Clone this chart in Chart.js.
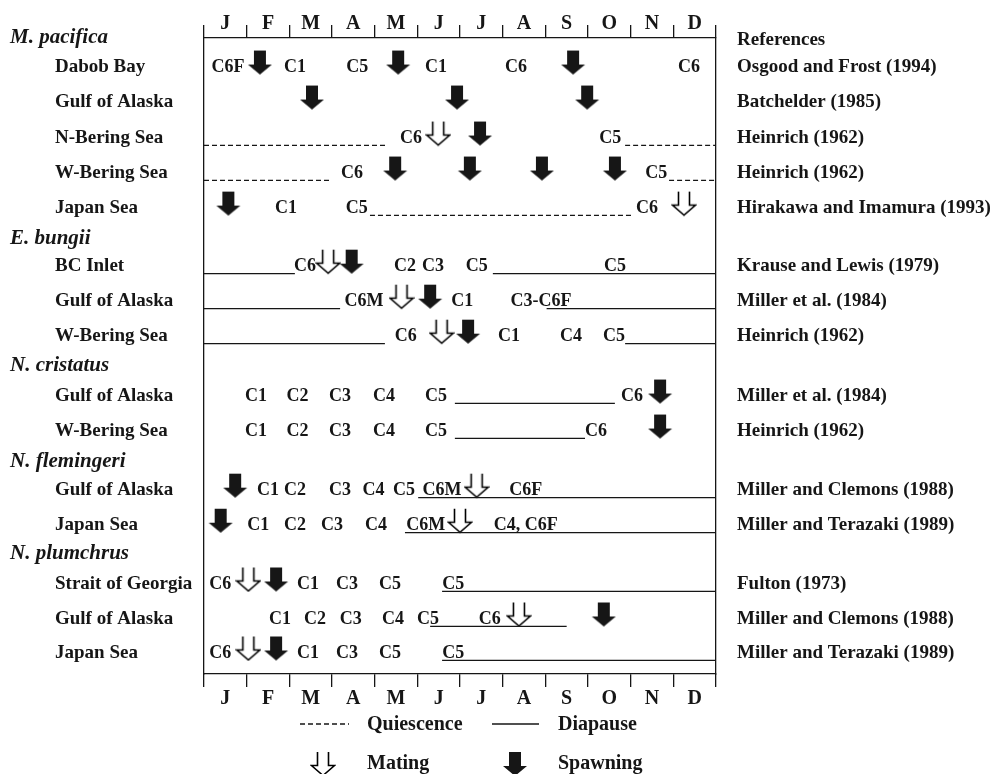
<!DOCTYPE html>
<html>
<head>
<meta charset="utf-8">
<script src="https://cdn.jsdelivr.net/npm/chart.js@4.4.1/dist/chart.umd.min.js"></script>
<style>
  html, body { margin: 0; padding: 0; background: #fff; }
  canvas { display: block; }
</style>
</head>
<body>
<canvas id="phenology" width="993" height="774"></canvas>
<script>
const months = ['J', 'F', 'M', 'A', 'M', 'J', 'J', 'A', 'S', 'O', 'N', 'D']

const speciesNames = ['M. pacifica', 'E. bungii', 'N. cristatus', 'N. flemingeri', 'N. plumchrus']
const speciesRows = [-0.03, 5.69, 9.34, 12.06, 14.71]

const siteNames = [
  'Dabob Bay', 'Gulf of Alaska', 'N-Bering Sea', 'W-Bering Sea', 'Japan Sea',
  'BC Inlet', 'Gulf of Alaska', 'W-Bering Sea',
  'Gulf of Alaska', 'W-Bering Sea',
  'Gulf of Alaska', 'Japan Sea',
  'Strait of Georgia', 'Gulf of Alaska', 'Japan Sea'
]
const siteRows = [0.77, 1.77, 2.8, 3.8, 4.8, 6.46, 7.46, 8.46, 10.17, 11.17, 12.86, 13.86, 15.54, 16.54, 17.51]
const siteRefs = [
  'Osgood and Frost (1994)', 'Batchelder (1985)', 'Heinrich (1962)', 'Heinrich (1962)', 'Hirakawa and Imamura (1993)',
  'Krause and Lewis (1979)', 'Miller et al. (1984)', 'Heinrich (1962)',
  'Miller et al. (1984)', 'Heinrich (1962)',
  'Miller and Clemons (1988)', 'Miller and Terazaki (1989)',
  'Fulton (1973)', 'Miller and Clemons (1988)', 'Miller and Terazaki (1989)'
]

// [site index, month position, stage text]
const stageLabels = [
  [0, 0.56, 'C6F'], [0, 2.13, 'C1'], [0, 3.59, 'C5'], [0, 5.44, 'C1'], [0, 7.31, 'C6'], [0, 11.37, 'C6'],
  [2, 4.85, 'C6'], [2, 9.52, 'C5'],
  [3, 3.47, 'C6'], [3, 10.6, 'C5'],
  [4, 1.92, 'C1'], [4, 3.58, 'C5'], [4, 10.38, 'C6'],
  [5, 2.37, 'C6'], [5, 4.71, 'C2'], [5, 5.37, 'C3'], [5, 6.39, 'C5'], [5, 9.63, 'C5'],
  [6, 3.75, 'C6M'], [6, 6.05, 'C1'], [6, 7.9, 'C3-C6F'],
  [7, 4.73, 'C6'], [7, 7.15, 'C1'], [7, 8.6, 'C4'], [7, 9.61, 'C5'],
  [8, 1.22, 'C1'], [8, 2.19, 'C2'], [8, 3.19, 'C3'], [8, 4.22, 'C4'], [8, 5.44, 'C5'], [8, 10.03, 'C6'],
  [9, 1.22, 'C1'], [9, 2.19, 'C2'], [9, 3.19, 'C3'], [9, 4.22, 'C4'], [9, 5.44, 'C5'], [9, 9.19, 'C6'],
  [10, 1.5, 'C1'], [10, 2.13, 'C2'], [10, 3.19, 'C3'], [10, 3.97, 'C4'], [10, 4.69, 'C5'], [10, 5.58, 'C6M'], [10, 7.54, 'C6F'],
  [11, 1.27, 'C1'], [11, 2.13, 'C2'], [11, 3.0, 'C3'], [11, 4.03, 'C4'], [11, 5.2, 'C6M'], [11, 7.54, 'C4, C6F'],
  [12, 0.38, 'C6'], [12, 2.44, 'C1'], [12, 3.35, 'C3'], [12, 4.36, 'C5'], [12, 5.84, 'C5'],
  [13, 1.78, 'C1'], [13, 2.6, 'C2'], [13, 3.44, 'C3'], [13, 4.43, 'C4'], [13, 5.25, 'C5'], [13, 6.7, 'C6'],
  [14, 0.38, 'C6'], [14, 2.44, 'C1'], [14, 3.35, 'C3'], [14, 4.36, 'C5'], [14, 5.84, 'C5']
]

// [site index, month position]
const spawning = [
  [0, 1.31], [0, 4.55], [0, 8.65],
  [1, 2.53], [1, 5.93], [1, 8.98],
  [2, 6.47],
  [3, 4.48], [3, 6.23], [3, 7.92], [3, 9.63],
  [4, 0.57],
  [5, 3.46], [6, 5.3], [7, 6.19],
  [8, 10.69], [9, 10.69],
  [10, 0.73], [11, 0.39],
  [12, 1.69], [13, 9.37], [14, 1.69]
]
const mating = [
  [2, 5.49], [4, 11.25], [5, 2.91], [6, 4.63], [7, 5.57],
  [10, 6.39], [11, 6.0], [12, 1.04], [13, 7.38], [14, 1.04]
]

// [site index, start month, end month]
const quiescence = [
  [2, 0, 4.28], [2, 9.87, 12], [3, 0, 3.0], [3, 10.9, 12], [4, 3.89, 10.03]
]
const diapause = [
  [5, 0, 2.13], [5, 6.77, 12], [6, 0, 3.19], [6, 8.03, 12], [7, 0, 4.24], [7, 9.87, 12],
  [8, 5.88, 9.63], [9, 5.88, 8.93], [10, 5.02, 12], [11, 4.71, 12],
  [12, 5.58, 12], [13, 5.3, 8.5], [14, 5.58, 12]
]

const ink = '#161616'
const serif = '"Liberation Serif", "Times New Roman", serif'
const lineDrop = 0.27   // segments sit under the text baseline
const arrowLift = -0.07
const textNudge = 2     // px, canvas 'middle' sits a little high for this face

function makeArrow(filled) {
  const c = document.createElement('canvas')
  c.width = 26
  c.height = 26
  const g = c.getContext('2d')
  g.beginPath()
  if (filled) {
    g.moveTo(7, 1); g.lineTo(19, 1); g.lineTo(19, 15); g.lineTo(25, 15)
    g.lineTo(13, 25); g.lineTo(1, 15); g.lineTo(7, 15); g.closePath()
    g.fillStyle = ink
    g.fill()
  } else {
    // open-topped outline arrow
    g.moveTo(7.5, 1); g.lineTo(7.5, 14.5); g.lineTo(1.5, 14.5); g.lineTo(13, 24.5)
    g.lineTo(24.5, 14.5); g.lineTo(18.5, 14.5); g.lineTo(18.5, 1)
    g.fillStyle = '#fff'
    g.fill()
    g.strokeStyle = '#000'
    g.lineWidth = 1.6
    g.lineJoin = 'miter'
    g.stroke()
  }
  return c
}
const spawnArrow = makeArrow(true)
const mateArrow = makeArrow(false)

function segmentDatasets(segments, dash) {
  return segments.map(([site, from, to]) => ({
    type: 'scatter',
    showLine: true,
    data: [{ x: from, y: siteRows[site] + lineDrop }, { x: to, y: siteRows[site] + lineDrop }],
    borderColor: ink,
    borderWidth: 1.3,
    borderDash: dash,
    pointRadius: 0
  }))
}

function arrowDataset(points, image) {
  return {
    type: 'scatter',
    data: points.map(([site, month]) => ({ x: month, y: siteRows[site] + arrowLift })),
    pointStyle: image,
    pointRadius: 12
  }
}

const datasets = [
  ...segmentDatasets(quiescence, [5, 3]),
  ...segmentDatasets(diapause, []),
  arrowDataset(spawning, spawnArrow),
  arrowDataset(mating, mateArrow)
]

const stageTextPlugin = {
  id: 'stageText',
  afterDatasetsDraw(chart) {
    const { ctx, scales: { x, y } } = chart
    ctx.save()
    ctx.font = `bold 18px ${serif}`
    ctx.fillStyle = ink
    ctx.textAlign = 'center'
    ctx.textBaseline = 'middle'
    stageLabels.forEach(([site, month, text]) => {
      ctx.fillText(text, x.getPixelForValue(month), y.getPixelForValue(siteRows[site]) + textNudge)
    })
    ctx.restore()
  }
}

const sideTextPlugin = {
  id: 'sideText',
  afterDraw(chart) {
    const { ctx, scales: { y }, chartArea } = chart
    ctx.save()
    ctx.fillStyle = ink
    ctx.textBaseline = 'middle'
    ctx.textAlign = 'left'

    ctx.font = `italic bold 21px ${serif}`
    speciesNames.forEach((name, i) => ctx.fillText(name, 10, y.getPixelForValue(speciesRows[i]) + 1))

    ctx.font = `bold 19px ${serif}`
    siteNames.forEach((name, i) => ctx.fillText(name, 55, y.getPixelForValue(siteRows[i]) + textNudge))

    const refX = chartArea.right + 21
    ctx.fillText('References', refX, y.getPixelForValue(0) + textNudge)
    siteRefs.forEach((ref, i) => ctx.fillText(ref, refX, y.getPixelForValue(siteRows[i]) + textNudge))

    // key under the bottom axis
    const row1 = chartArea.bottom + 49
    const row2 = chartArea.bottom + 88
    ctx.font = `bold 20px ${serif}`
    ctx.fillText('Quiescence', 367, row1 + textNudge)
    ctx.fillText('Diapause', 558, row1 + textNudge)
    ctx.fillText('Mating', 367, row2 + textNudge)
    ctx.fillText('Spawning', 558, row2 + textNudge)

    ctx.strokeStyle = ink
    ctx.lineWidth = 1.3
    ctx.setLineDash([5, 3])
    ctx.beginPath(); ctx.moveTo(300, row1 + 1); ctx.lineTo(349, row1 + 1); ctx.stroke()
    ctx.setLineDash([])
    ctx.beginPath(); ctx.moveTo(492, row1 + 1); ctx.lineTo(539, row1 + 1); ctx.stroke()
    ctx.drawImage(mateArrow, 323 - 13, row2 - 11)
    ctx.drawImage(spawnArrow, 515 - 13, row2 - 11)
    ctx.restore()
  }
}

function monthAxis(position, height, padding) {
  return {
    type: 'category',
    labels: months,
    position,
    offset: true,
    grid: { offset: true, drawOnChartArea: false, tickLength: 13, color: ink, lineWidth: 1.3 },
    border: { display: true, color: ink, width: 1.3 },
    ticks: { color: ink, font: { family: serif, size: 20, weight: 'bold' }, padding, maxRotation: 0, autoSkip: false },
    afterFit: (scale) => { scale.height = height }
  }
}

function frameAxis(position, width) {
  return {
    type: 'linear',
    position,
    min: 0,
    max: 1,
    ticks: { display: false },
    grid: { display: false },
    border: { display: true, color: ink, width: 1.3 },
    afterFit: (scale) => { scale.width = width }
  }
}

new Chart(document.getElementById('phenology'), {
  type: 'scatter',
  data: { datasets },
  plugins: [stageTextPlugin, sideTextPlugin],
  options: {
    responsive: false,
    animation: false,
    layout: { padding: 0 },
    plugins: { legend: { display: false }, tooltip: { enabled: false } },
    scales: {
      x: { type: 'linear', min: 0, max: 12, display: false },
      y: { type: 'linear', reverse: true, min: 0, max: 18.17, display: false },
      frameLeft: frameAxis('left', 204),
      frameRight: frameAxis('right', 277),
      monthTop: monthAxis('top', 38, -11),
      monthBottom: monthAxis('bottom', 100, 0)
    }
  }
})
</script>
</body>
</html>
